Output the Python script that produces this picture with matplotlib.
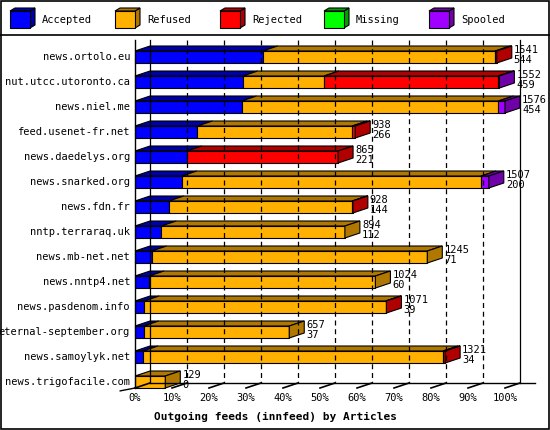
import matplotlib
matplotlib.use("Agg")
import matplotlib.pyplot as plt
from matplotlib.patches import Polygon, Rectangle

hosts = ["news.ortolo.eu", "nut.utcc.utoronto.ca", "news.niel.me", "feed.usenet-fr.net",
         "news.daedelys.org", "news.snarked.org", "news.fdn.fr", "nntp.terraraq.uk",
         "news.mb-net.net", "news.nntp4.net", "news.pasdenom.info", "eternal-september.org",
         "news.samoylyk.net", "news.trigofacile.com"]
offered  = [1541, 1552, 1576, 938, 865, 1507, 928, 894, 1245, 1024, 1071, 657, 1321, 129]
accepted = [544, 459, 454, 266, 221, 200, 144, 112, 71, 60, 39, 37, 34, 0]
refused  = [990, 346, 1094, 659, 0, 1274, 781, 782, 1174, 964, 1029, 620, 1278, 129]
rejected = [7, 742, 0, 13, 644, 0, 3, 0, 0, 0, 3, 0, 9, 0]
missing  = [0]*14
spooled  = [0, 5, 28, 0, 0, 33, 0, 0, 0, 0, 0, 0, 0, 0]
series_names = ["Accepted", "Refused", "Rejected", "Missing", "Spooled"]
front = ["#0000FF", "#FFB000", "#FF0000", "#00FF00", "#A000FF"]
dark = ["#0000A8", "#B07800", "#B00000", "#00A000", "#7000A8"]
ticks = list(range(0, 101, 10))

W, H = 550, 430
fig = plt.figure(figsize=(W/100, H/100), dpi=100)
fig.patch.set_facecolor("white")
mono = "DejaVu Sans Mono"

# overlay in pixels for frame and legend
ov = fig.add_axes([0, 0, 1, 1]); ov.set_xlim(0, W); ov.set_ylim(H, 0); ov.axis("off")
ov.add_patch(Rectangle((0.5, 0.5), W-1.5, H-1.5, fill=False, ec="black", lw=1.2))
ov.plot([0, W], [35, 35], color="black", lw=1.2)
lx = [10, 115, 220, 324, 429]
for i, name in enumerate(series_names):
    x0 = lx[i]
    ov.add_patch(Polygon([(x0+20, 11), (x0+25, 8), (x0+25, 25), (x0+20, 28)], fc=dark[i], ec="black", lw=0.8))
    ov.add_patch(Polygon([(x0, 11), (x0+5, 8), (x0+25, 8), (x0+20, 11)], fc=dark[i], ec="black", lw=0.8))
    ov.add_patch(Rectangle((x0, 11), 20, 17, fc=front[i], ec="black", lw=0.8))
    ov.text(x0+32, 20, name, fontsize=7.5, family=mono, va="center", ha="left")

# main axes: x in percent, y in rows
x0p, x1p = 135, 505
top_px, bot_px = 40, 395
ax = fig.add_axes([x0p/W, 1-bot_px/H, (x1p-x0p)/W, (bot_px-top_px)/H])
ax.set_xlim(0, 100)
r0 = (57-top_px)/25
ax.set_ylim((bot_px-top_px)/25 - r0, -r0)
ax.axis("off")
pxx = 100/370.0
pxy = 1/25.0
dx, dy = 15*pxx, 5*pxy
hh = 6*pxy
mx = max(offered)
floor_y = 13 + hh
top_y = -r0

for k in ticks:
    xb = k + dx
    ax.plot([xb, xb], [top_y, floor_y-dy], color="black", lw=0.9,
            ls=(0, (4, 3)) if 0 < k < 100 else "-", clip_on=False)
    ax.plot([k, xb], [floor_y, floor_y-dy], color="black", lw=1.2, clip_on=False)
    ax.text(k, floor_y+10*pxy, f"{k}%", ha="center", va="center", fontsize=7.5, family=mono)
ax.plot([0, 0], [top_y, floor_y], color="black", lw=1, clip_on=False)
ax.plot([dx, 100+dx+4], [floor_y-dy, floor_y-dy], color="black", lw=1, clip_on=False)
ax.plot([-4, 0], [floor_y+1.6*hh*0.3, floor_y], color="black", lw=1, clip_on=False)

for r, h in enumerate(hosts):
    vals = [accepted[r], refused[r], rejected[r], missing[r], spooled[r]]
    left = 0.0
    last = None
    for j, v in enumerate(vals):
        if v <= 0:
            continue
        w = v/mx*100
        ax.add_patch(Polygon([(left, r-hh), (left+dx, r-hh-dy), (left+w+dx, r-hh-dy), (left+w, r-hh)],
                             fc=dark[j], ec="black", lw=0.8, clip_on=False))
        ax.barh(r, w, left=left, height=2*hh, color=front[j], edgecolor="black", lw=0.8, clip_on=False)
        left += w
        last = j
    ax.add_patch(Polygon([(left, r-hh), (left+dx, r-hh-dy), (left+dx, r+hh-dy), (left, r+hh)],
                         fc=dark[last], ec="black", lw=0.8, clip_on=False))
    ax.text(left+dx+2*pxx, r-hh-dy-1*pxy, f"{offered[r]}\n{accepted[r]}", fontsize=7.5, family=mono,
            va="top", ha="left", linespacing=0.95)
    ax.text(-5*pxx, r, h, fontsize=7.5, family=mono, ha="right", va="center")

fig.text(275/W, 1-417/H, "Outgoing feeds (innfeed) by Articles", ha="center", va="center",
         fontsize=8, family=mono, weight="bold")
fig.savefig("out.png", dpi=100)
